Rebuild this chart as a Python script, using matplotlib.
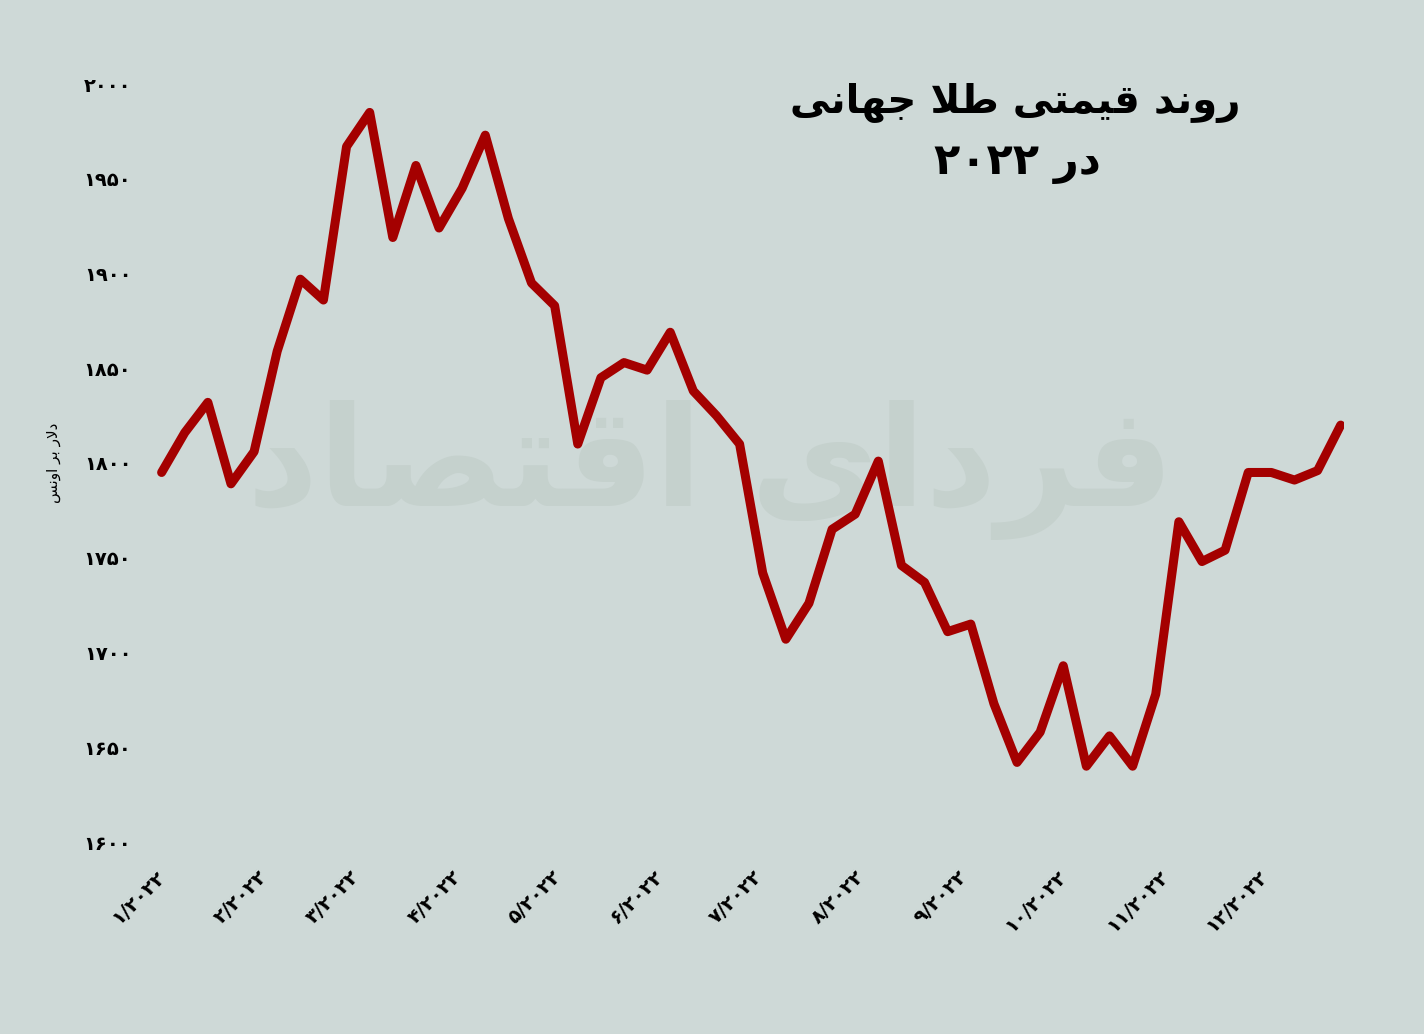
import matplotlib
matplotlib.use("Agg")
import matplotlib.pyplot as plt
import numpy as np
import pandas as pd

# weekly gold price, USD per ounce
weeks = pd.date_range("2022-01-03", periods=52, freq="7D")
prices = [1795, 1816, 1832, 1789, 1806, 1859, 1897, 1886, 1967, 1985,
          1919, 1957, 1924, 1945, 1973, 1929, 1895, 1883, 1810, 1845,
          1853, 1849, 1869, 1838, 1825, 1810, 1742, 1707, 1726, 1765,
          1773, 1801, 1746, 1737, 1711, 1715, 1673, 1642, 1658, 1693,
          1640, 1656, 1640, 1678, 1769, 1748, 1754, 1795, 1795, 1791,
          1796, 1820]

yticks = [1600, 1650, 1700, 1750, 1800, 1850, 1900, 1950, 2000]
months = [1, 2, 3, 4, 5, 6, 7, 8, 9, 10, 11, 12]

title_1 = "روند قیمتی طلا جهانی"
title_2 = "در ۲۰۲۲"
ylabel = "دلار بر اونس"
watermark = "فردای اقتصاد"

bg = "#ced9d7"
red = "#a40000"

# matplotlib does no arabic shaping, so pick presentation forms by hand
# (isolated, final, initial, medial)
FORMS = {
    "ا": ("\uFE8D", "\uFE8E", None, None),
    "ب": ("\uFE8F", "\uFE90", "\uFE91", "\uFE92"),
    "ت": ("\uFE95", "\uFE96", "\uFE97", "\uFE98"),
    "ج": ("\uFE9D", "\uFE9E", "\uFE9F", "\uFEA0"),
    "د": ("\uFEA9", "\uFEAA", None, None),
    "ر": ("\uFEAD", "\uFEAE", None, None),
    "س": ("\uFEB1", "\uFEB2", "\uFEB3", "\uFEB4"),
    "ص": ("\uFEB9", "\uFEBA", "\uFEBB", "\uFEBC"),
    "ط": ("\uFEC1", "\uFEC2", "\uFEC3", "\uFEC4"),
    "ف": ("\uFED1", "\uFED2", "\uFED3", "\uFED4"),
    "ق": ("\uFED5", "\uFED6", "\uFED7", "\uFED8"),
    "ل": ("\uFEDD", "\uFEDE", "\uFEDF", "\uFEE0"),
    "م": ("\uFEE1", "\uFEE2", "\uFEE3", "\uFEE4"),
    "ن": ("\uFEE5", "\uFEE6", "\uFEE7", "\uFEE8"),
    "ه": ("\uFEE9", "\uFEEA", "\uFEEB", "\uFEEC"),
    "و": ("\uFEED", "\uFEEE", None, None),
    "ی": ("\uFEEF", "\uFEF0", "\uFEF3", "\uFEF4"),
}


def joins_next(c):
    return c in FORMS and FORMS[c][2] is not None


def shape_word(w):
    out = []
    i = 0
    while i < len(w):
        c = w[i]
        prev = i > 0 and joins_next(w[i - 1])
        if c == "ل" and i + 1 < len(w) and w[i + 1] == "ا":
            out.append("\uFEFC" if prev else "\uFEFB")
            i += 2
            continue
        if c not in FORMS:
            out.append(c)
            i += 1
            continue
        nxt = joins_next(c) and i + 1 < len(w) and w[i + 1] in FORMS
        if prev and nxt:
            out.append(FORMS[c][3])
        elif prev:
            out.append(FORMS[c][1])
        elif nxt:
            out.append(FORMS[c][2])
        else:
            out.append(FORMS[c][0])
        i += 1
    return "".join(reversed(out))


def rtl(text):
    words = []
    for w in reversed(text.split(" ")):
        if w[0] in FORMS:
            words.append(shape_word(w))
        else:
            words.append(w)
    return " ".join(words)


def fa_num(n):
    return str(n).translate(str.maketrans("0123456789", "۰۱۲۳۴۵۶۷۸۹"))


plt.rcParams["font.family"] = ["DejaVu Sans"]

fig = plt.figure(figsize=(14.24, 10.34), dpi=100, facecolor=bg)
ax = fig.add_axes([155 / 1424, 192 / 1034, 1189 / 1424, 758 / 1034])
ax.set_facecolor("none")

# faint watermark, drawn before the axes
fig.text(710 / 1424, 1 - 470 / 1034, rtl(watermark), fontsize=100,
         fontweight="bold", color="#c5d1cd", ha="center", va="center",
         zorder=-1)

ax.plot(weeks, prices, color=red, lw=6.5, solid_joinstyle="round",
        solid_capstyle="round", zorder=3)

ax.set_ylim(1600, 2000)
ax.set_xlim(pd.Timestamp("2022-01-01"), pd.Timestamp("2022-12-27"))

ax.set_yticks(yticks)
ax.set_yticklabels([fa_num(v) for v in yticks], fontsize=14, fontweight="bold")
tick_pos = [pd.Timestamp(2022, m, 1) for m in months]
ax.set_xticks(tick_pos)
ax.set_xticklabels([fa_num(m) + "/" + fa_num(2022) for m in months],
                   rotation=45, ha="right", rotation_mode="anchor",
                   fontsize=14, fontweight="bold")
ax.tick_params(axis="both", length=0)
ax.tick_params(axis="y", pad=17)
ax.tick_params(axis="x", pad=18)

for s in ax.spines.values():
    s.set_visible(False)

ax.set_ylabel(rtl(ylabel), fontsize=11, labelpad=16)

fig.text(1015 / 1424, 1 - 103 / 1034, rtl(title_1), fontsize=29,
         fontweight="bold", ha="center", va="center")
fig.text(1017 / 1424, 1 - 163 / 1034, rtl(title_2), fontsize=31,
         fontweight="bold", ha="center", va="center")

fig.savefig("out.png", dpi=100, facecolor=bg)
